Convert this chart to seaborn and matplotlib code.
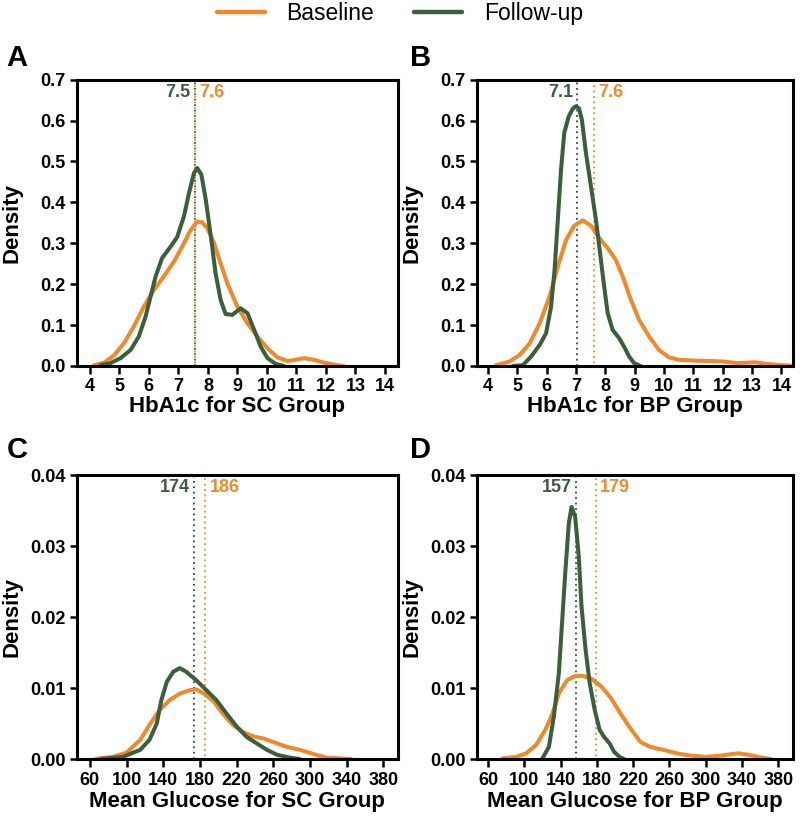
import matplotlib
matplotlib.use("Agg")
import matplotlib.pyplot as plt
import matplotlib.transforms as mtransforms
from matplotlib.lines import Line2D
import seaborn as sns
import pandas as pd

# ---------------- data ----------------
series_names = ["Baseline", "Follow-up"]

# Panel A: HbA1c, SC group
a_base_x = [4.14, 4.48, 4.81, 5.15, 5.49, 5.83, 6.17, 6.51, 6.85, 7.19, 7.42, 7.64, 7.81, 7.98, 8.21, 8.43,
            8.66, 9.0, 9.34, 9.68, 10.02, 10.36, 10.7, 11.04, 11.26, 11.6, 11.94, 12.3, 12.6]
a_base_y = [0.002, 0.008, 0.025, 0.055, 0.096, 0.145, 0.186, 0.219, 0.255, 0.300, 0.333, 0.353, 0.351, 0.337,
            0.300, 0.251, 0.202, 0.145, 0.104, 0.072, 0.043, 0.021, 0.012, 0.016, 0.019, 0.015, 0.008, 0.003, 0.0]
a_fu_x = [4.36, 4.70, 5.04, 5.38, 5.66, 5.89, 6.06, 6.23, 6.45, 6.74, 6.96, 7.19, 7.36, 7.53, 7.64, 7.78,
          7.93, 8.1, 8.26, 8.43, 8.6, 8.83, 9.11, 9.34, 9.57, 9.79, 10.02, 10.3, 10.58]
a_fu_y = [0.002, 0.007, 0.019, 0.039, 0.072, 0.121, 0.170, 0.219, 0.264, 0.292, 0.315, 0.366, 0.423, 0.472,
          0.484, 0.468, 0.406, 0.317, 0.227, 0.162, 0.127, 0.125, 0.141, 0.129, 0.088, 0.047, 0.019, 0.005, 0.0]

# Panel B: HbA1c, BP group
b_base_x = [4.28, 4.74, 5.08, 5.42, 5.76, 6.1, 6.38, 6.66, 6.94, 7.23, 7.51, 7.79, 8.08, 8.36, 8.59, 8.87,
            9.15, 9.49, 9.83, 10.17, 10.51, 11.08, 11.64, 12.0, 12.5, 13.1, 13.5, 14.0, 14.3]
b_base_y = [0.002, 0.011, 0.027, 0.055, 0.104, 0.170, 0.243, 0.308, 0.343, 0.356, 0.343, 0.313, 0.288, 0.259,
            0.219, 0.162, 0.113, 0.072, 0.039, 0.021, 0.015, 0.013, 0.012, 0.011, 0.007, 0.009, 0.005, 0.002, 0.001]
b_fu_x = [4.85, 5.19, 5.47, 5.76, 5.98, 6.15, 6.27, 6.38, 6.49, 6.6, 6.75, 6.9, 7.0, 7.1, 7.2, 7.34, 7.51,
          7.68, 7.82, 7.96, 8.08, 8.25, 8.47, 8.64, 8.81, 8.98, 9.2]
b_fu_y = [0.0, 0.002, 0.023, 0.051, 0.080, 0.145, 0.235, 0.357, 0.480, 0.570, 0.610, 0.630, 0.635, 0.630,
          0.602, 0.520, 0.439, 0.357, 0.276, 0.194, 0.129, 0.088, 0.068, 0.047, 0.023, 0.007, 0.0]

# Panel C: Mean glucose, SC group
c_base_x = [66, 71, 85, 100, 115, 125, 136, 147, 158, 169, 176, 185, 195, 205, 216, 227, 238, 249, 260,
            275, 289, 304, 318, 331, 345]
c_base_y = [0.0, 0.0001, 0.0003, 0.0009, 0.0027, 0.0048, 0.0069, 0.0083, 0.0092, 0.0097, 0.0098, 0.0092,
            0.0081, 0.0064, 0.0048, 0.0038, 0.0032, 0.0029, 0.0024, 0.0017, 0.0013, 0.0007, 0.0002, 0.0001, 0.0]
c_fu_x = [72, 96, 115, 125, 133, 138, 144, 151, 158, 165, 176, 187, 198, 209, 220, 231, 242, 253, 264,
          278, 289]
c_fu_y = [0.0, 0.0003, 0.0013, 0.0027, 0.0050, 0.0083, 0.0109, 0.0123, 0.0128, 0.0123, 0.0111, 0.0097,
          0.0083, 0.0064, 0.0046, 0.0031, 0.0022, 0.0013, 0.0006, 0.0002, 0.0]

# Panel D: Mean glucose, BP group
d_base_x = [76, 91, 102, 113, 123, 131, 138, 147, 156, 165, 174, 185, 196, 206, 217, 228, 239, 253, 268,
            282, 300, 318, 329, 336, 347, 362, 372]
d_base_y = [0.0001, 0.0003, 0.0008, 0.0020, 0.0041, 0.0064, 0.0092, 0.0111, 0.0117, 0.0117, 0.0113, 0.0102,
            0.0085, 0.0064, 0.0043, 0.0024, 0.0017, 0.0013, 0.0008, 0.0005, 0.0003, 0.0005, 0.0007, 0.0008,
            0.0006, 0.0002, 0.0]
d_fu_x = [120, 127, 132.5, 138, 141.5, 145, 149, 152, 156, 160, 163, 167.5, 172, 177.6, 183, 188, 194, 199,
          205, 210]
d_fu_y = [0.0001, 0.0017, 0.0060, 0.0121, 0.0191, 0.0261, 0.0332, 0.0355, 0.0341, 0.0285, 0.0215, 0.0154,
          0.0107, 0.0069, 0.0041, 0.0031, 0.0022, 0.0010, 0.0003, 0.0]

# means (vertical reference lines and their labels)
mean_line_fu_pos = [7.55, 7.05, 174, 157]
mean_line_base_pos = [7.58, 7.62, 186, 179]
mean_labels_base = ["7.6", "7.6", "186", "179"]
mean_labels_fu = ["7.5", "7.1", "174", "157"]

panel_letters = ["A", "B", "C", "D"]
x_labels = ["HbA1c for SC Group", "HbA1c for BP Group",
            "Mean Glucose for SC Group", "Mean Glucose for BP Group"]
hba1c_ticks = list(range(4, 15))
glucose_ticks = list(range(60, 381, 40))
hba1c_yticks = [0.0, 0.1, 0.2, 0.3, 0.4, 0.5, 0.6, 0.7]
glucose_yticks = [0.00, 0.01, 0.02, 0.03, 0.04]

# ---------------- style ----------------
sns.set_theme(style="ticks")
plt.rcParams["font.family"] = ["Liberation Sans", "DejaVu Sans"]
plt.rcParams["font.weight"] = "bold"
plt.rcParams["text.color"] = "black"
plt.rcParams["axes.labelcolor"] = "black"
plt.rcParams["xtick.color"] = "black"
plt.rcParams["ytick.color"] = "black"

ORANGE = "#F0892A"
GREEN = "#3B5E3D"
GREEN_DOT = "#34473A"
palette = {"Baseline": ORANGE, "Follow-up": GREEN}

fig = plt.figure(figsize=(8.0, 8.18), dpi=100)

positions = [
    [0.096, 0.5526, 0.4015, 0.350],
    [0.596, 0.5526, 0.3955, 0.350],
    [0.096, 0.0721, 0.4015, 0.3472],
    [0.596, 0.0721, 0.3955, 0.3472],
]
xlims = [(3.56, 14.44), (3.62, 14.4), (45.8, 396), (47.5, 396.5)]
ylims = [(0, 0.7), (0, 0.7), (0, 0.04), (0, 0.04)]
letter_pos = [(0.008, 0.929), (0.513, 0.929), (0.008, 0.450), (0.513, 0.450)]
ylabel_x = [-0.203, -0.206, -0.203, -0.206]
xlabel_y = [-0.143, -0.143, -0.151, -0.151]

curves = [
    (a_base_x, a_base_y, a_fu_x, a_fu_y),
    (b_base_x, b_base_y, b_fu_x, b_fu_y),
    (c_base_x, c_base_y, c_fu_x, c_fu_y),
    (d_base_x, d_base_y, d_fu_x, d_fu_y),
]

for i, (bx, by, fx, fy) in enumerate(curves):
    ax = fig.add_axes(positions[i])
    df = pd.concat([
        pd.DataFrame({"x": bx, "y": by, "Group": "Baseline"}),
        pd.DataFrame({"x": fx, "y": fy, "Group": "Follow-up"}),
    ], ignore_index=True)
    sns.lineplot(data=df, x="x", y="y", hue="Group", palette=palette,
                 estimator=None, sort=True, linewidth=2.9, legend=False, ax=ax,
                 solid_joinstyle="round", solid_capstyle="round")

    ax.axvline(mean_line_fu_pos[i], color=GREEN_DOT if i else GREEN,
               linestyle=(0, (1, 2)), linewidth=1.3, zorder=1)
    ax.axvline(mean_line_base_pos[i], color=ORANGE,
               linestyle=(1.5, (1, 2)), linewidth=1.3, zorder=1)

    trans = mtransforms.blended_transform_factory(ax.transData, ax.transAxes)
    off = (xlims[i][1] - xlims[i][0]) * 0.013
    ax.text(mean_line_fu_pos[i] - off, 0.955, mean_labels_fu[i], color=GREEN,
            ha="right", va="center", fontsize=13, fontweight="bold", transform=trans)
    ax.text(mean_line_base_pos[i] + off, 0.955, mean_labels_base[i], color=ORANGE,
            ha="left", va="center", fontsize=13, fontweight="bold", transform=trans)

    ax.set_xlim(*xlims[i])
    ax.set_ylim(*ylims[i])
    if i < 2:
        ax.set_xticks(hba1c_ticks)
        ax.set_yticks(hba1c_yticks)
        ax.set_yticklabels([f"{v:.1f}" for v in hba1c_yticks])
    else:
        ax.set_xticks(glucose_ticks)
        ax.set_yticks(glucose_yticks)
        ax.set_yticklabels([f"{v:.2f}" for v in glucose_yticks])
    ax.set_xlabel(x_labels[i], fontsize=16, fontweight="bold")
    ax.set_ylabel("Density", fontsize=16, fontweight="bold")
    ax.xaxis.set_label_coords(0.5, xlabel_y[i])
    ax.yaxis.set_label_coords(ylabel_x[i], 0.5)
    ax.xaxis.label.set_va("center")
    ax.yaxis.label.set_va("center")
    ax.tick_params(axis="x", labelsize=13, width=1.8, length=6, pad=3)
    ax.tick_params(axis="y", labelsize=13, width=1.8, length=5, pad=3)
    for lab in ax.get_xticklabels() + ax.get_yticklabels():
        lab.set_fontweight("bold")
    for sp in ax.spines.values():
        sp.set_visible(True)
        sp.set_linewidth(2.2)
        sp.set_color("black")
    ax.grid(False)

    fig.text(letter_pos[i][0], letter_pos[i][1], panel_letters[i], fontsize=21,
             fontweight="bold", ha="left", va="center")

handles = [Line2D([0], [0], color=palette[n], lw=3.2, solid_capstyle="round") for n in series_names]
fig.legend(handles, series_names, loc="center", bbox_to_anchor=(0.5, 0.983),
           ncol=2, frameon=False, prop={"size": 16.5, "weight": "normal"},
           handlelength=2.1, columnspacing=1.75, handletextpad=0.95)

fig.savefig("out.png", dpi=100)
